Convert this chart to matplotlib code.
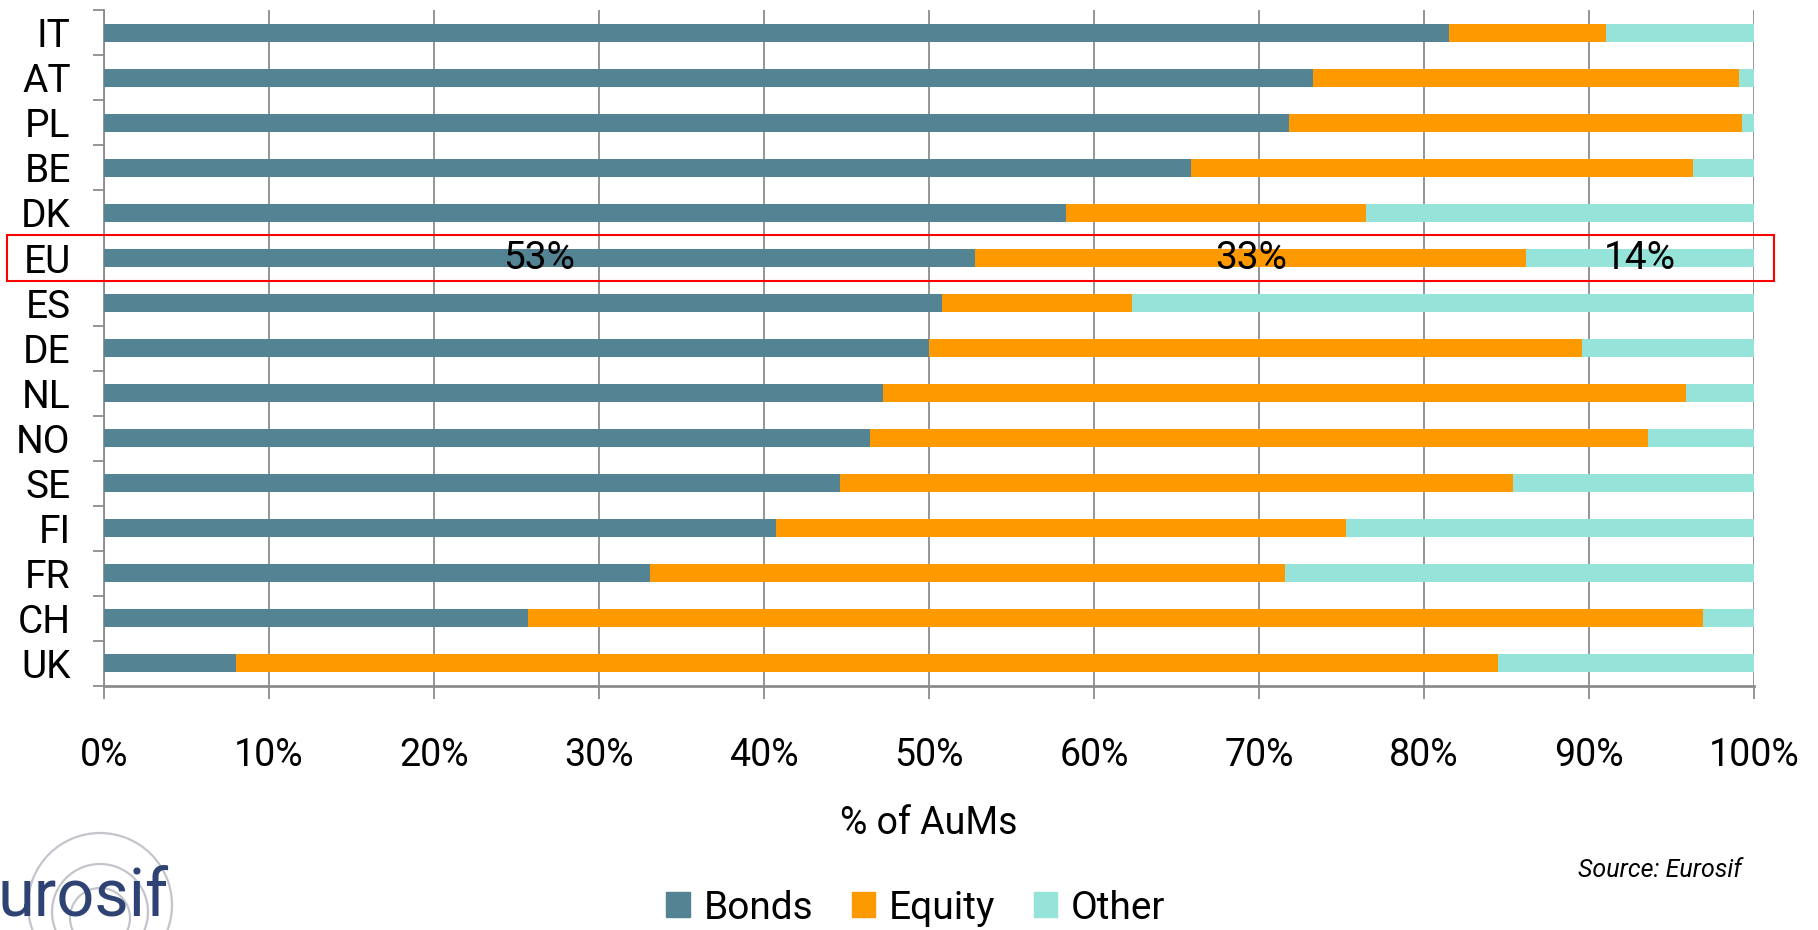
import numpy as np
import matplotlib.pyplot as plt
from matplotlib.patches import Patch, Rectangle, Arc
from matplotlib.transforms import blended_transform_factory

countries = ["IT", "AT", "PL", "BE", "DK", "EU", "ES", "DE", "NL", "NO", "SE", "FI", "FR", "CH", "UK"]
bonds = [81.5, 73.3, 71.8, 65.9, 58.3, 52.8, 50.8, 50.0, 47.2, 46.4, 44.6, 40.7, 33.1, 25.7, 8.0]
equity = [9.5, 25.8, 27.5, 30.4, 18.2, 33.4, 11.5, 39.6, 48.7, 47.2, 40.8, 34.6, 38.5, 71.2, 76.5]
other = [100 - b - e for b, e in zip(bonds, equity)]
eu_labels = ["53%", "33%", "14%"]
series_names = ["Bonds", "Equity", "Other"]
colors = ["#548393", "#FF9900", "#95E3D9"]

plt.rcParams["font.family"] = ["Roboto", "DejaVu Sans"]

fig = plt.figure(figsize=(18.18, 9.30), dpi=100)
ax = fig.add_axes([0.0572, 0.2624, 0.9076, 0.7266])

y = np.arange(len(countries))
b = np.array(bonds)
e = np.array(equity)
o = np.array(other)
ax.barh(y, b, height=0.4, color=colors[0], edgecolor="none", zorder=3)
ax.barh(y, e, left=b, height=0.4, color=colors[1], edgecolor="none", zorder=3)
ax.barh(y, o, left=b + e, height=0.4, color=colors[2], edgecolor="none", zorder=3)

ax.set_xlim(0, 100)
ax.set_ylim(len(countries) - 0.5, -0.5)

# x axis
ax.set_xticks(np.arange(0, 101, 10))
ax.set_xticklabels([f"{v}%" for v in range(0, 101, 10)])
ax.tick_params(axis="x", length=9, width=1.3, color="#8c8c8c", pad=28, labelsize=27)
ax.grid(axis="x", color="#8c8c8c", linewidth=1.3, zorder=0)
ax.set_xlabel("% of AuMs", fontsize=27, labelpad=22)

# y axis: ticks at category boundaries, labels at centers
ax.set_yticks(np.arange(-0.5, len(countries), 1))
ax.set_yticklabels([])
ax.set_yticks(y, minor=True)
ax.set_yticklabels(countries, minor=True)
ax.tick_params(axis="y", which="major", length=8, width=1.3, color="#8c8c8c")
ax.tick_params(axis="y", which="minor", length=0, pad=24, labelsize=28)

for s in ["top", "right"]:
    ax.spines[s].set_visible(False)
ax.spines["left"].set_color("#8c8c8c")
ax.spines["left"].set_linewidth(1.3)
ax.spines["bottom"].set_color("#8c8c8c")
ax.spines["bottom"].set_linewidth(2)

# EU highlight and labels
eu = countries.index("EU")
starts = [0, b[eu], b[eu] + e[eu]]
widths = [b[eu], e[eu], o[eu]]
for s, w, lab in zip(starts, widths, eu_labels):
    ax.text(s + w / 2, eu, lab, ha="center", va="center", fontsize=28, zorder=5)
trans = blended_transform_factory(ax.transAxes, ax.transData)
ax.add_patch(Rectangle((-0.0588, eu - 0.51), 1.0708, 1.02, transform=trans,
                       fill=False, edgecolor="red", linewidth=1.5, clip_on=False, zorder=6))

# legend
handles = [Patch(color=c, label=n) for c, n in zip(colors, series_names)]
fig.legend(handles=handles, loc="center", bbox_to_anchor=(916 / 1818, 1 - 908 / 930),
           ncol=3, frameon=False, fontsize=28, handlelength=0.6, handleheight=0.6,
           handletextpad=0.35, columnspacing=1.0, borderpad=0)

fig.text(1742 / 1818, 1 - 870 / 930, "Source: Eurosif", ha="right", va="center",
         fontsize=18, style="italic")

# logo
lax = fig.add_axes([0, 0, 200 / 1818, 110 / 930])
lax.set_xlim(0, 200)
lax.set_ylim(110, 0)
lax.axis("off")
for r, cy in [(72, 85), (48, 92), (30, 98)]:
    lax.add_patch(Arc((100, cy), 2 * r, 2 * r, theta1=0, theta2=360,
                      color="#c4c4cc", linewidth=1.6))
lax.text(-2, 110, "urosif", fontsize=48, color="#2E4374", ha="left", va="bottom")

fig.savefig("out.png", dpi=100)
